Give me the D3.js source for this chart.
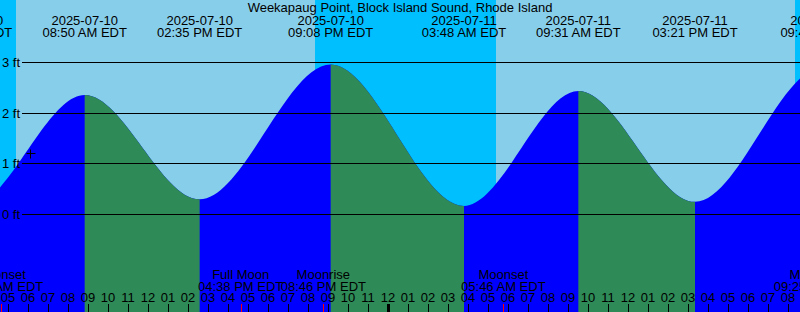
<!DOCTYPE html>
<html>
<head>
<meta charset="utf-8">
<script src="https://cdnjs.cloudflare.com/ajax/libs/d3/7.8.5/d3.min.js"></script>
<style>
    body { margin: 0; overflow: hidden; }
    text { font-family: "Liberation Sans", Arial, sans-serif; font-size: 13px; fill: #000; }
</style>
</head>
<body>
<div id="tidegraph"></div>
<script>
var title = "Weekapaug Point, Block Island Sound, Rhode Island";

// high / low tides, EDT wall clock, heights in feet
var tideTimes = ["2025-07-09 20:40", "2025-07-10 03:06", "2025-07-10 08:50", "2025-07-10 14:35",
    "2025-07-10 21:08", "2025-07-11 03:48", "2025-07-11 09:31", "2025-07-11 15:21",
    "2025-07-11 21:45", "2025-07-12 04:20"];
var tideHeights = [2.8, 0.15, 2.35, 0.29, 2.95, 0.16, 2.43, 0.24, 2.9, 0.15];

// sun
var sunrises = ["2025-07-10 05:24", "2025-07-11 05:24"];
var sunsets = ["2025-07-10 20:21", "2025-07-11 20:21"];

// moon events shown along the bottom
var eventNames = ["Moonset", "Full Moon", "Moonrise", "Moonset", "Moonrise"];
var eventTimes = ["2025-07-10 04:39", "2025-07-10 16:38", "2025-07-10 20:46", "2025-07-11 05:46", "2025-07-11 21:25"];

var gridFeet = [0, 1, 2, 3];
var graphStart = "2025-07-10 04:36", graphEnd = "2025-07-11 20:36";

// the little + mark
var markTime = "2025-07-10 06:06", markHeight = 1.2;

var width = 800, height = 312;
var parse = d3.utcParse("%Y-%m-%d %H:%M");

var svg = d3.select("#tidegraph")
    .append("svg")
    .attr("width", width)
    .attr("height", height);

var x = d3.scaleUtc()
    .domain([parse(graphStart), parse(graphEnd)])
    .range([0, width]);
var y = d3.scaleLinear()
    .domain([0, 3])
    .range([214, 62]);

var tides = tideTimes.map(function (t, i) {
    return {t: parse(t), h: tideHeights[i]};
});

// day / night background
svg.append("rect")
    .attr("width", width)
    .attr("height", height)
    .attr("fill", "#87ceeb");
var nights = [[parse(graphStart), parse(sunrises[0])],
    [parse(sunsets[0]), parse(sunrises[1])],
    [parse(sunsets[1]), parse(graphEnd)]];
svg.selectAll(".night")
    .data(nights)
    .enter().append("rect")
    .attr("class", "night")
    .attr("x", function (d) { return x(d[0]); })
    .attr("width", function (d) { return x(d[1]) - x(d[0]); })
    .attr("y", 0)
    .attr("height", height)
    .attr("fill", "#00bfff");

// water
var area = d3.area()
    .x(function (d) { return x(d.t); })
    .y0(height)
    .y1(function (d) { return y(d.h); })
    .curve(d3.curveMonotoneX);

var defs = svg.append("defs");
var segs = d3.pairs(tides);
segs.forEach(function (s, i) {
    defs.append("clipPath")
        .attr("id", "seg" + i)
        .append("rect")
        .attr("x", x(s[0].t))
        .attr("width", x(s[1].t) - x(s[0].t))
        .attr("y", 0)
        .attr("height", height);
});
svg.append("path")
    .datum(tides)
    .attr("d", area)
    .attr("fill", "#0000ff");
segs.forEach(function (s, i) {
    if (s[1].h < s[0].h) {
        svg.append("path")
            .datum(tides)
            .attr("d", area)
            .attr("clip-path", "url(#seg" + i + ")")
            .attr("fill", "#2e8b57");
    }
});

// feet lines
svg.selectAll(".grid")
    .data(gridFeet)
    .enter().append("line")
    .attr("x1", 22)
    .attr("x2", width)
    .attr("y1", function (d) { return Math.round(y(d)) + 0.5; })
    .attr("y2", function (d) { return Math.round(y(d)) + 0.5; })
    .attr("stroke", "#000");
svg.selectAll(".ftlabel")
    .data(gridFeet)
    .enter().append("text")
    .attr("x", 2)
    .attr("y", function (d) { return Math.round(y(d)) + 4.5; })
    .text(function (d) { return d + " ft"; });

// title and tide labels on top
svg.append("text")
    .attr("x", width / 2)
    .attr("y", 12)
    .attr("text-anchor", "middle")
    .text(title);

var fmtDate = d3.utcFormat("%Y-%m-%d"),
    fmtTime = d3.utcFormat("%I:%M %p EDT");
var tideLabel = svg.selectAll(".tidelabel")
    .data(tides)
    .enter().append("g")
    .attr("transform", function (d) { return "translate(" + x(d.t) + ",0)"; });
tideLabel.append("text")
    .attr("y", 24.5)
    .attr("text-anchor", "middle")
    .text(function (d) { return fmtDate(d.t); });
tideLabel.append("text")
    .attr("y", 37)
    .attr("text-anchor", "middle")
    .text(function (d) { return fmtTime(d.t); });

// moon events at the bottom
var events = eventTimes.map(function (t, i) {
    return {t: parse(t), name: eventNames[i]};
});
var evLabel = svg.selectAll(".evlabel")
    .data(events)
    .enter().append("g")
    .attr("transform", function (d) { return "translate(" + x(d.t) + ",0)"; });
evLabel.append("text")
    .attr("y", 278.5)
    .attr("text-anchor", "middle")
    .text(function (d) { return d.name; });
evLabel.append("text")
    .attr("y", 291)
    .attr("text-anchor", "middle")
    .text(function (d) { return fmtTime(d.t); });

// hour ticks
var hours = x.ticks(d3.utcHour.every(1));
svg.selectAll(".hourtick")
    .data(hours)
    .enter().append("line")
    .attr("x1", function (d) { return Math.round(x(d)) + 0.5; })
    .attr("x2", function (d) { return Math.round(x(d)) + 0.5; })
    .attr("y1", 304)
    .attr("y2", height)
    .attr("stroke", "#000")
    .attr("stroke-width", function (d) { return d.getUTCHours() === 0 ? 3 : 1; });
svg.selectAll(".hourlabel")
    .data(hours)
    .enter().append("text")
    .attr("x", function (d) { return x(d); })
    .attr("y", 302)
    .attr("text-anchor", "middle")
    .text(d3.utcFormat("%I"));
svg.selectAll(".evtick")
    .data(events)
    .enter().append("line")
    .attr("x1", function (d) { return Math.round(x(d.t)) + 0.5; })
    .attr("x2", function (d) { return Math.round(x(d.t)) + 0.5; })
    .attr("y1", 304)
    .attr("y2", height)
    .attr("stroke", "#ff0000");

// + mark
var mx = Math.round(x(parse(markTime))) + 0.5,
    my = Math.round(y(markHeight)) + 0.5;
svg.append("path")
    .attr("d", "M" + (mx - 4) + "," + my + "H" + (mx + 5) + "M" + mx + "," + (my - 4) + "V" + (my + 5))
    .attr("stroke", "#000");
</script>
</body>
</html>
